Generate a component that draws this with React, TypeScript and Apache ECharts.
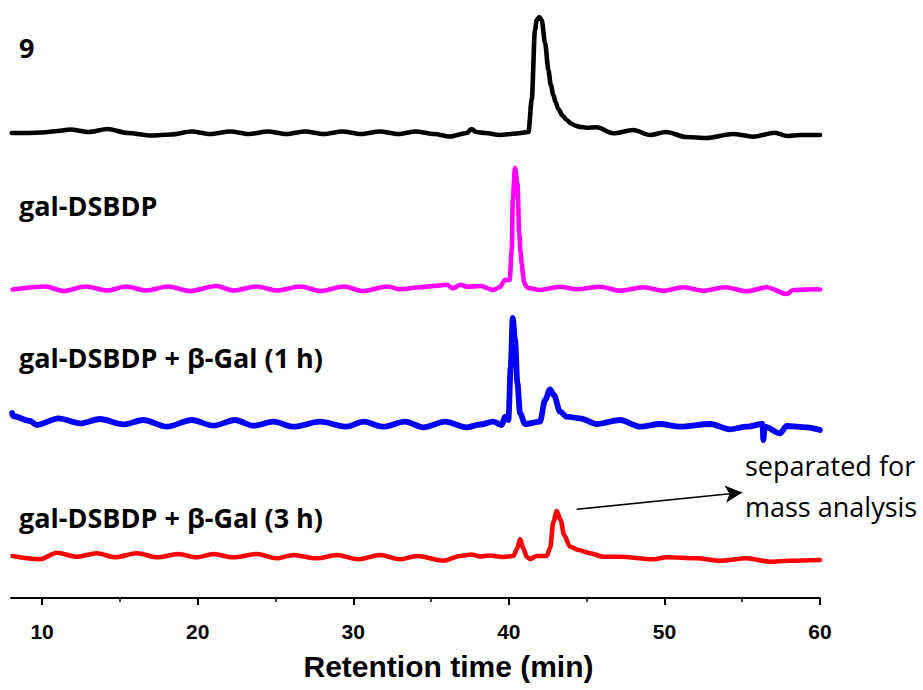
import React, { useEffect, useRef } from "react";
import * as echarts from "echarts";

// x-axis (retention time, min)
const xMin = 8;
const xMax = 60;
const xTicks = [10, 20, 30, 40, 50, 60];
const xMinorTicks = [15, 25, 35, 45, 55];
const xTitle = "Retention time (min)";

const traceNames = ["9", "gal-DSBDP", "gal-DSBDP + β-Gal (1 h)", "gal-DSBDP + β-Gal (3 h)"];
const traceColors = ["#000000", "#ff00ff", "#0000ff", "#ff0000"];
const traceOffsets = [466, 308, 175, 41];

// [time, signal] (signal relative to each trace's baseline)
const trace9: [number, number][] = [
  [8.05, -1], [9.0, -1], [10.0, -0.5], [11.0, 1], [11.8, 2.5], [13.0, 0], [14.2, 3], [15.5, -1],
  [17.0, -3.5], [18.3, -2.5], [19.6, 0.5], [20.8, -2], [22.1, 0.5], [23.3, -2], [24.5, 0.5],
  [25.7, -2], [26.9, 0.5], [28.1, -2], [29.3, 0.5], [30.5, -2], [31.7, 0.5], [32.9, -2],
  [34.0, 0.5], [35.2, -2], [36.2, -4.5], [37.3, -1], [37.6, 3], [37.9, 0], [38.5, -1],
  [39.4, -3], [40.5, -1.5], [41.26, 0], [41.47, 32], [41.68, 102], [41.79, 112], [41.96, 115],
  [42.11, 112], [42.33, 89], [42.54, 62], [42.7, 47], [42.86, 37], [43.0, 30], [43.18, 23],
  [43.45, 16.5], [43.72, 12], [44.0, 8.5], [44.25, 6.5], [44.6, 5], [45.0, 4.3], [45.65, 4.7],
  [46.7, -1.3], [48.0, 2], [49.07, -3], [50.1, 0], [51.4, -5], [52.7, -6], [54.4, -2],
  [55.7, -4.7], [57.1, -0.7], [57.9, -4], [58.7, -3], [60.0, -3],
];

const traceGal: [number, number][] = [
  [8.1, 0.5], [10.2, 3.5], [11.4, -1], [12.8, 3.5], [14.2, -0.5], [15.4, 3.5], [16.7, -0.5],
  [18.1, 3.5], [19.5, -1], [21.2, 4], [22.3, -0.5], [23.8, 3.5], [25.1, -0.5], [26.6, 3.5],
  [27.9, -1], [29.4, 3.5], [30.6, -1], [32.2, 3.5], [33.0, 0.7], [34.3, 2.7], [35.15, 4],
  [36.0, 5.3], [36.4, 1.7], [36.9, 5.3], [37.3, 3.3], [38.2, 4], [39.0, 0], [39.4, 2.7],
  [39.76, 10], [40.05, 10], [40.19, 40], [40.25, 90], [40.4, 122], [40.55, 107], [40.67, 57],
  [40.75, 38], [40.83, 27], [40.9, 16], [40.98, 8], [41.1, 4], [41.25, 2], [42.0, 0],
  [43.29, 3.3], [44.36, 0.7], [45.86, 3.3], [47.15, -0.7], [48.64, 2.7], [49.93, -0.7],
  [51.21, 2.7], [52.5, -0.7], [53.89, 2.7], [55.29, -1.3], [56.57, 2.7], [57.86, -4],
  [58.28, 0], [59.79, 0.7], [60.0, 0.5],
];

const traceGal1h: [number, number][] = [
  [8.07, 10], [8.12, 7], [9.23, 2], [9.66, -2], [11.05, 4.7], [12.44, -0.3], [13.73, 4],
  [15.22, -1.3], [16.51, 3], [18.01, -3.7], [19.62, 3], [21.01, -2.7], [22.4, 3], [23.58, -2.7],
  [24.87, 1.3], [26.15, -3.7], [27.87, 1.3], [29.58, -3.7], [30.65, 1.3], [31.93, -3.7],
  [33.33, 1.3], [34.5, -4.3], [35.9, 1.3], [37.29, -4.3], [38.15, -1.5], [39.0, 1.3],
  [39.54, -2], [39.76, 6.3], [39.97, 3], [40.12, 56], [40.25, 105], [40.4, 83], [40.55, 40],
  [40.72, 9.7], [41.04, -1], [42.0, 1.3], [42.33, 23], [42.65, 33.7], [42.9, 28], [43.29, 11.3],
  [43.72, 6.3], [44.58, 4.7], [45.65, -1], [47.15, 3], [48.44, -3.7], [49.72, -1], [51.0, -3.7],
  [52.93, -1], [54.22, -6.3], [55.29, -3.7], [56.3, -1], [56.36, -17], [56.45, -3.7],
  [57.43, -10.3], [57.86, -3], [59.15, -4.3], [60.0, -7],
];

const traceGal3h: [number, number][] = [
  [8.1, 1], [9.87, -2.3], [10.94, 4.3], [12.23, 0.3], [13.52, 3.7], [14.69, -0.3], [16.09, 3.7],
  [17.37, -0.3], [18.76, 3], [19.94, -0.3], [21.01, 3], [22.29, -0.3], [23.8, 3], [25.08, -1.3],
  [26.15, 2], [27.65, -1.3], [28.94, 2], [30.33, -2.3], [31.72, 2], [33.01, -2.3], [34.08, 1],
  [35.79, -3.7], [36.86, 1], [37.6, 2.5], [38.15, 0.5], [38.79, 1.5], [39.6, 0], [40.29, 1],
  [40.55, 8.7], [40.72, 18], [40.93, 8.7], [41.15, 0.3], [41.36, -2], [41.79, 1], [42.43, 1],
  [42.65, 8.7], [42.86, 35], [43.08, 46], [43.33, 37], [43.55, 22], [43.93, 10.3], [44.47, 7],
  [45.22, 3.7], [46.07, 0.3], [47.15, 0.3], [49.29, -2.3], [50.15, -0.3], [52.08, -1.3],
  [53.57, -3.7], [55.29, -1.3], [56.79, -4.7], [58.07, -3.7], [60.0, -3],
];

const traces = [trace9, traceGal, traceGal1h, traceGal3h];

// annotation arrow (time, axis value) and its text
const arrowFrom: [number, number] = [44.36, 88.7];
const arrowTo: [number, number] = [55.0, 105.5];
const annotationLines = ["separated for", "mass analysis"];

export default function App() {
  const ref = useRef<HTMLDivElement>(null);

  useEffect(() => {
    if (!ref.current) return;
    const chart = echarts.init(ref.current, null, { renderer: "svg" });

    const labelY = [52, 210, 362, 522];
    const labelFont = 27;

    const series: any[] = traces.map((tr, k) => ({
      type: "line",
      name: traceNames[k],
      data: tr.map(([t, v]) => [t, v + traceOffsets[k]]),
      showSymbol: false,
      smooth: 0.3,
      smoothMonotone: "x",
      lineStyle: { color: traceColors[k], width: k === 2 ? 5.8 : 4.6, join: "round", cap: "round" },
      itemStyle: { color: traceColors[k] },
      silent: true,
      z: 2,
    }));

    series[3].markLine = {
      silent: true,
      symbol: ["none", "arrow"],
      symbolSize: [13, 17],
      label: { show: false },
      lineStyle: { color: "#000", width: 1.6, type: "solid" },
      data: [[{ coord: arrowFrom }, { coord: arrowTo }]],
    };

    const graphic: any[] = traceNames.map((n, k) => ({
      type: "text",
      left: 19,
      top: labelY[k] - 18,
      style: {
        text: n,
        font: `bold ${labelFont}px "Open Sans", sans-serif`,
        fill: "#000",
      },
    }));
    annotationLines.forEach((s, i) => {
      graphic.push({
        type: "text",
        left: 745,
        top: 452 + i * 41,
        style: { text: s, font: '27px "Open Sans", sans-serif', fill: "#000" },
      });
    });

    chart.setOption({
      animation: false,
      backgroundColor: "#fff",
      grid: { left: 11, right: 103, top: 10, bottom: 92, outerBoundsMode: "none" },
      xAxis: [
        {
          type: "value",
          min: xMin,
          max: xMax,
          position: "bottom",
          splitLine: { show: false },
          axisLine: { show: true, lineStyle: { color: "#000", width: 2 } },
          axisTick: {
            show: true,
            inside: false,
            length: 7,
            lineStyle: { color: "#000", width: 2 },
            customValues: xTicks,
          },
          axisLabel: {
            show: true,
            customValues: xTicks,
            margin: 23,
            color: "#000",
            fontFamily: '"Liberation Sans", Arial, sans-serif',
            fontWeight: "bold",
            fontSize: 21,
          },
          name: xTitle,
          nameLocation: "middle",
          nameGap: 53,
          nameTextStyle: {
            color: "#000",
            fontFamily: '"Liberation Sans", Arial, sans-serif',
            fontWeight: "bold",
            fontSize: 30,
            padding: [0, 0, 0, 66],
          },
        },
        {
          type: "value",
          min: xMin,
          max: xMax,
          position: "bottom",
          splitLine: { show: false },
          axisLine: { show: false },
          axisTick: {
            show: true,
            inside: false,
            length: 4,
            lineStyle: { color: "#000", width: 1.5 },
            customValues: xMinorTicks,
          },
          axisLabel: { show: false },
        },
      ],
      yAxis: { type: "value", min: 0, max: 588, show: false },
      series,
      graphic,
    });

    return () => chart.dispose();
  }, []);

  return (
    <div
      ref={ref}
      style={{ position: "fixed", left: 0, top: 0, width: 923, height: 690, background: "#fff" }}
    />
  );
}
